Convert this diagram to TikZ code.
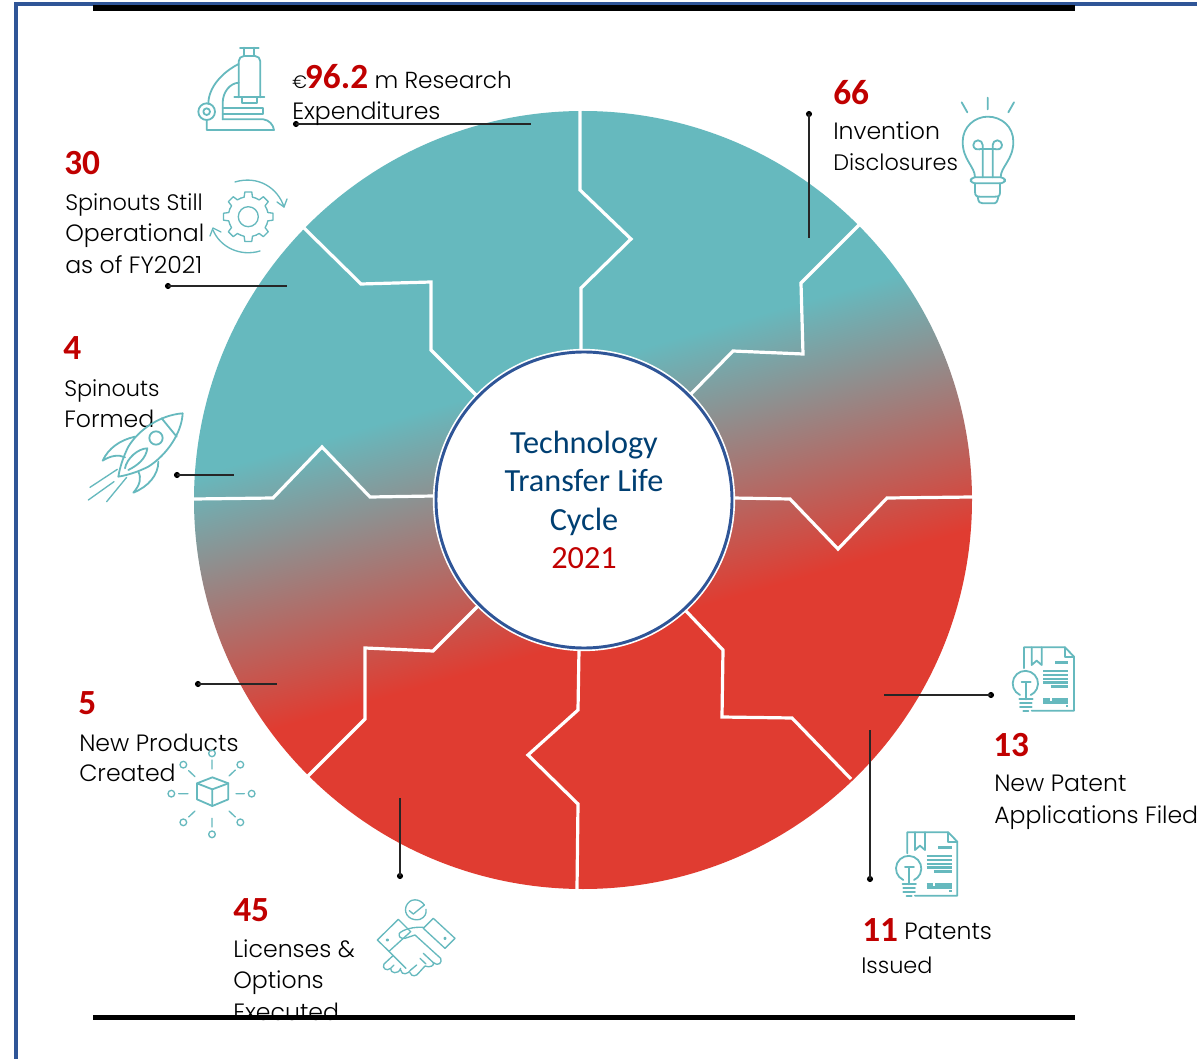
\documentclass[tikz,border=0pt]{standalone}
\usepackage{fontspec}
\newfontfamily\bodyf{Poppins Light}
\newfontfamily\numf{Carlito}
\usetikzlibrary{calc}
\definecolor{tealc}{HTML}{66B9BE}
\definecolor{redc}{HTML}{E03C31}
\definecolor{numred}{HTML}{C00000}
\definecolor{framec}{HTML}{2F5597}
\definecolor{navy}{HTML}{003F72}
\pgfdeclareverticalshading{discshade}{1000bp}{color(0bp)=(redc); color(395bp)=(redc); color(593bp)=(tealc); color(1000bp)=(tealc)}
\tikzset{
  bodytext/.style={anchor=base west,inner sep=0pt,font=\bodyf\fontsize{17.7}{21}\selectfont,text=black},
  bodytight/.style={bodytext,font=\bodyf\fontsize{16.8}{20}\selectfont},
  numtext/.style={anchor=base west,inner sep=0pt,font=\numf\bfseries\fontsize{26.5}{30}\selectfont,text=numred},
  divider/.style={draw=white,line width=2.4pt,line join=miter},
  leader/.style={draw=black!85,line width=0.9pt},
  leaddot/.style={circle,fill=black,inner sep=0pt,minimum size=4.6pt},
  icon/.style={draw=tealc,line width=1.35pt,line join=round,line cap=round},
  iconfine/.style={draw=tealc,line width=1pt,line join=round,line cap=round},
  iconthick/.style={draw=tealc,line width=1.9pt},
  pics/patenticon/.style={code={
    \begin{scope}[x=0.25pt,y=-0.25pt]
      \draw[icon] (492,85)--(492,22)--(615,22)--(642,50)--(642,212)--(515,212);
      \draw[icon] (515,22)--(515,75)--(530,62)--(545,75)--(545,22);
      \draw[icon] (615,22)--(615,50)--(642,50);
      \draw[iconthick] (585,68)--(625,68) (550,93)--(625,93) (550,105)--(625,105) (550,117)--(625,117) (550,128)--(625,128) (572,140)--(625,140);
      \draw[iconthick] (550,178)--(570,178) (576,178)--(625,178) (550,187)--(625,187) (618,198)--(625,198);
      \draw[icon] (480,165) arc[start angle=-115,end angle=-425,x radius=38,y radius=-38];
      \draw[icon] (497,127)--(497,178) (485,127)--(512,127);
      \draw[icon] (478,178)--(518,178) (480,190)--(515,190) (480,202)--(515,202) (490,212)--(505,212);
    \end{scope}
  }}
}
\begin{document}
\begin{tikzpicture}[x=0.75pt,y=-0.75pt]
\useasboundingbox (0,0) rectangle (1197,1059);
\fill[white] (0,0) rectangle (1197,1059);

% disc with tilted gradient
\begin{scope}
  \clip (583,500) circle[radius=389];
  \node[inner sep=0pt,rotate=16] (shade) at (583,494) {\pgfuseshading{discshade}};
\end{scope}

% dividers
\draw[divider] (580,111)--(580,190)--(631,239)--(581,288)--(581,350);
\draw[divider] (859,225)--(801,283)--(803,354)--(733,351)--(691,394);
\draw[divider] (972,497)--(887,498)--(838,549)--(790,499)--(733,498);
\draw[divider] (851,779)--(792,718)--(722,717)--(723,650)--(686,611);
\draw[divider] (577,889)--(578,804)--(528,755)--(578,710)--(579,650);
\draw[divider] (308,776)--(365,719)--(365,648)--(433,651)--(478,606);
\draw[divider] (194,499)--(273,498)--(322,447)--(370,497)--(434,496);
\draw[divider] (304,228)--(361,284)--(431,282)--(431,350)--(476,395);

% hub
\node[circle,draw=white,line width=1.2pt,fill=white,minimum size=225.5pt,inner sep=0pt] (halo) at (584,500) {};
\node[circle,draw=framec,line width=2.2pt,fill=white,minimum size=222pt,inner sep=0pt,align=center,font=\numf\fontsize{24.2}{28.9}\selectfont,text=navy] (hub) at (584,500)
  {Technology\\Transfer Life\\Cycle\\\textcolor{numred}{2021}};

% leaders
\node[leaddot] (d1) at (296,124) {}; \coordinate (e1) at (531,124); \draw[leader] (d1.center)--(e1);
\node[leaddot] (d2) at (168,286) {}; \coordinate (e2) at (287,286); \draw[leader] (d2.center)--(e2);
\node[leaddot] (d3) at (177,475) {}; \coordinate (e3) at (234,475); \draw[leader] (d3.center)--(e3);
\node[leaddot] (d4) at (198,684) {}; \coordinate (e4) at (277,684); \draw[leader] (d4.center)--(e4);
\node[leaddot] (d5) at (400,876) {}; \coordinate (e5) at (400,798); \draw[leader] (d5.center)--(e5);
\node[leaddot] (d6) at (870,879) {}; \coordinate (e6) at (870,730); \draw[leader] (d6.center)--(e6);
\node[leaddot] (d7) at (991,695) {}; \coordinate (e7) at (884,695); \draw[leader] (d7.center)--(e7);
\node[leaddot] (d8) at (809,114) {}; \coordinate (e8) at (809,238); \draw[leader] (d8.center)--(e8);

% labels
\node[bodytext,font=\bodyf\fontsize{17.4}{21}\selectfont] (t1) at (292,89) {{\fontsize{13.5}{16}\selectfont €}\kern-1.5pt{\numf\bfseries\fontsize{26.5}{30}\selectfont\textcolor{numred}{96.2}} m Research};
\node[bodytext] (t1b) at (292,120) {Expenditures};
\node[numtext] (n8) at (833,105) {66};
\node[bodytext] (t8a) at (833,140) {Invention};
\node[bodytight] (t8b) at (833,171) {Disclosures};
\node[numtext] (n2) at (64,175) {30};
\node[bodytight] (t2a) at (65,211) {Spinouts Still};
\node[bodytext] (t2b) at (65,242) {Operational};
\node[bodytext] (t2c) at (65,274) {as of FY2021};
\node[numtext] (n3) at (63,360) {4};
\node[bodytight] (t3a) at (64,397) {Spinouts};
\node[bodytext] (t3b) at (64,428) {Formed};
\node[numtext] (n4) at (78,714) {5};
\node[bodytext] (t4a) at (79,751) {New Products};
\node[bodytext] (t4b) at (79,781) {Created};
\node[numtext] (n5) at (233,921) {45};
\node[bodytext] (t5a) at (233,957) {Licenses \&};
\node[bodytext] (t5b) at (233,988) {Options};
\node[bodytext] (t5c) at (233,1020) {Executed};
\node[numtext] (n7) at (993,756) {13};
\node[bodytext] (t7a) at (994,791) {New Patent};
\node[bodytext] (t7b) at (994,823) {Applications Filed};
\node[numtext] (n6) at (862,941) {11};
\node[bodytext] (t6a) at (904,939) {Patents};
\node[bodytight] (t6b) at (861,973) {Issued};

% microscope
\begin{scope}[x=0.25pt,y=-0.25pt]
  \draw[icon] (720,143)--(776,143) (733,143)--(733,168) (763,143)--(763,168);
  \draw[icon,rounded corners=4pt] (716,292)--(716,168)--(781,168)--(781,292);
  \draw[icon] (703,292)--(793,292);
  \draw[icon] (725,292)--(725,310)--(772,310)--(772,292);
  \draw[icon] (716,192) .. controls (670,215) and (625,260) .. (625,312);
  \draw[icon] (716,248) .. controls (690,250) and (668,275) .. (668,310)--(668,358);
  \draw[icon] (620,335) circle[radius=25];
  \draw[icon] (620,335) circle[radius=10];
  \draw[icon] (668,325)--(790,325)--(790,343)--(668,343);
  \draw[icon] (668,358)--(790,358) .. controls (808,360) and (820,375) .. (822,390)--(620,390)--(620,360);
\end{scope}

% gear
\begin{scope}[shift={(248.3,216.7)}]
  \draw[iconfine] (0,0) circle[radius=10];
  \foreach \a in {90,135,...,405}
    \draw[iconfine] (\a-22.5:20)--(\a-12:20)--(\a-8:25)--(\a+8:25)--(\a+12:20)--(\a+22.5:20);
\end{scope}
\draw[iconfine] (235,182) .. controls (258,175) and (278,188) .. (284,207);
\draw[iconfine] (277,202)--(284,207)--(287,199);
\draw[iconfine] (260,251) .. controls (240,257) and (220,247) .. (213,230);
\draw[iconfine] (210,236)--(213,228)--(221,232);

% rocket
\begin{scope}[shift={(60,330)},x=0.25pt,y=-0.25pt]
  \draw[icon] (368,250) .. controls (300,255) and (235,300) .. (205,350) .. controls (190,380) and (180,410) .. (175,440) .. controls (205,435) and (235,425) .. (265,410) .. controls (320,375) and (365,310) .. (368,250);
  \draw[icon] (305,265)--(350,320);
  \draw[icon] (288,324) circle[radius=20];
  \draw[icon] (225,320) .. controls (180,330) and (145,355) .. (128,392) .. controls (150,378) and (175,372) .. (195,382);
  \draw[icon] (295,395) .. controls (295,435) and (265,470) .. (220,488) .. controls (240,465) and (245,445) .. (235,425);
  \draw[icon] (195,415) .. controls (200,385) and (235,355) .. (262,355) .. controls (258,385) and (235,405) .. (205,420);
  \draw[iconfine] (172,418)--(90,472) (162,455)--(85,510) (200,442)--(140,515);
\end{scope}

% bulb
\begin{scope}[shift={(800,70)},x=0.25pt,y=-0.25pt]
  \draw[icon] (485,97)--(502,127) (563,83)--(563,118) (642,97)--(625,127);
  \draw[icon] (525,322) .. controls (525,290) and (488,270) .. (488,215) .. controls (488,170) and (525,140) .. (563,140) .. controls (605,140) and (640,170) .. (640,215) .. controls (640,270) and (602,290) .. (602,322);
  \draw[icon,rounded corners=3pt] (512,322) rectangle (615,340);
  \draw[icon] (525,340)--(525,365) .. controls (525,378) and (530,380) .. (540,380)--(585,380) .. controls (597,380) and (600,378) .. (600,365)--(600,340);
  \draw[icon] (533,380) .. controls (535,398) and (540,400) .. (548,400)--(578,400) .. controls (588,400) and (592,398) .. (595,380);
  \draw[icon] (548,322)--(548,225) arc[start angle=0,end angle=290,radius=14,y radius=-14];
  \draw[icon] (578,322)--(578,225) arc[start angle=180,end angle=-110,radius=14,y radius=-14];
  \draw[icon] (540,237)--(586,237);
\end{scope}

% cube icon
\begin{scope}[shift={(60,670)},x=0.25pt,y=-0.25pt]
  \draw[icon] (457,322)--(505,340)--(505,388)--(457,408)--(411,388)--(411,340)--cycle;
  \draw[icon] (411,340)--(457,358)--(505,340) (457,358)--(457,408);
  \foreach \cx/\cy in {456/250,541/284,575/371,541/457,456/493,370/457,334/371,370/284}
    \draw[iconfine] (\cx,\cy) circle[radius=10];
  \draw[iconfine] (456,270)--(456,297) (507,318)--(526,300) (528,371)--(553,371) (507,423)--(526,441) (456,445)--(456,471) (405,423)--(386,441) (356,371)--(384,371) (405,320)--(386,302);
\end{scope}

% handshake
\begin{scope}[shift={(370,890)},x=0.25pt,y=-0.25pt]
  \draw[iconfine] (163,45) .. controls (150,25) and (118,22) .. (108,50) .. controls (100,75) and (125,95) .. (150,88) .. controls (165,82) and (170,70) .. (168,58);
  \draw[iconfine] (118,62)--(130,72)--(163,45);
  \draw[iconfine] (22,150)--(85,88)--(122,125)--(57,184)--cycle;
  \draw[iconfine] (160,115)--(190,85)--(255,145)--(225,175)--cycle;
  \draw[iconfine] (52,150) circle[radius=3] (225,145) circle[radius=3];
  \draw[iconfine] (160,112) .. controls (130,110) and (100,118) .. (88,130) .. controls (85,140) and (92,147) .. (105,145) -- (135,135) -- (212,205) .. controls (218,218) and (205,230) .. (190,218);
  \draw[iconfine] (57,184) -- (108,235);
  \draw[iconfine] (68,198) -- (42,222) .. controls (35,235) and (50,245) .. (62,235) -- (72,225) (62,235) .. controls (60,250) and (85,255) .. (92,235) (92,240) .. controls (95,258) and (115,252) .. (122,240) (120,248) .. controls (125,262) and (140,258) .. (145,250) -- (165,228) (165,228) .. controls (180,235) and (195,225) .. (190,218) -- (160,190);
  \draw[iconfine] (122,240) -- (140,225) (150,205) -- (168,222);
\end{scope}

% patent icons
\pic (patA) at (860,640) {patenticon};
\pic (patB) at (743.3,825) {patenticon};

% frame and bars
\draw[framec,line width=2.6pt] (16,1059)--(16,4)--(1197,4);
\draw[black,line width=3.9pt] (93,8)--(1075,8);
\draw[black,line width=3.9pt] (93,1017.5)--(1075,1017.5);
\end{tikzpicture}
\end{document}
